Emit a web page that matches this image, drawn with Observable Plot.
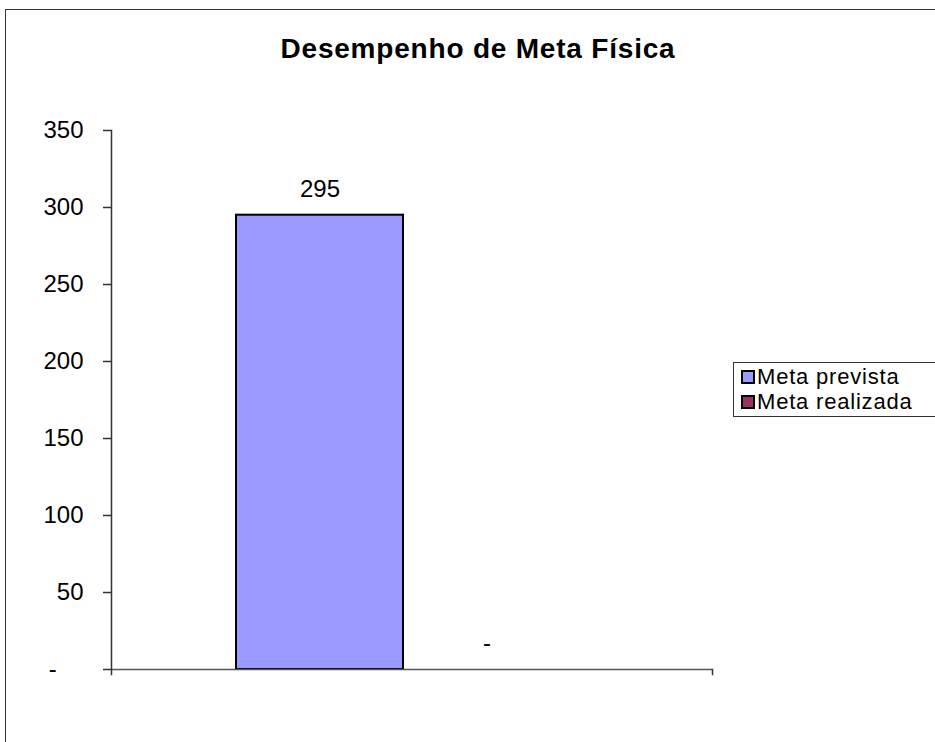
<!DOCTYPE html>
<html>
<head>
<meta charset="utf-8">
<script src="https://cdn.jsdelivr.net/npm/d3@7"></script>
<script src="https://cdn.jsdelivr.net/npm/@observablehq/plot@0.6"></script>
<style>
  html, body { margin: 0; padding: 0; background: #fff; overflow: hidden; }
  #wrap { position: relative; width: 935px; height: 742px; overflow: hidden; font-family: "Liberation Sans", Arial, sans-serif; }
  #frame { position: absolute; left: 5px; top: 9px; width: 1000px; height: 1000px; border: 1.5px solid #333; box-sizing: border-box; }
  #title { position: absolute; top: 33px; left: 0; width: 956px; text-align: center; font-weight: bold; font-size: 28px; letter-spacing: 0.8px; color: #000; }
  #chart { position: absolute; left: 0; top: 0; }
  #legend { position: absolute; left: 733px; top: 362px; width: 260px; border: 1px solid #333; padding: 1px 0 2px 7px; font-size: 22px; line-height: 25px; letter-spacing: 0.8px; background: #fff; }
  .row { display: flex; align-items: center; height: 25px; white-space: nowrap; }
  .sw { display: inline-block; width: 10px; height: 10px; border: 2px solid #000; margin-right: 2px; }
</style>
</head>
<body>
<div id="wrap">
  <div id="frame"></div>
  <div id="title"></div>
  <div id="chart"></div>
  <div id="legend"></div>
</div>
<script>
const titleText = "Desempenho de Meta Física";
const series = ["Meta prevista", "Meta realizada"];
const values = [295, 0];
const colors = ["#9999FF", "#993366"];
const yTicks = [0, 50, 100, 150, 200, 250, 300, 350];

const data = series.map((s, i) => ({series: s, value: values[i]}));
const fmt = v => v === 0 ? "-" : String(v);

document.getElementById("title").textContent = titleText;

const chart = Plot.plot({
  width: 935,
  height: 742,
  marginLeft: 111,
  marginRight: 223,
  marginTop: 130,
  marginBottom: 73,
  style: {fontFamily: "'Liberation Sans', Arial, sans-serif", fontSize: "24px", background: "transparent", color: "#000"},
  x: {domain: series, paddingInner: 0, paddingOuter: 0.79, align: 0.47, axis: null},
  y: {domain: [0, 350], axis: null},
  color: {domain: series, range: colors},
  marks: [
    Plot.axisY({ticks: yTicks, tickSize: 8, tickPadding: 20, stroke: "#333", strokeWidth: 1.5,
      tickFormat: d => d === 0 ? "-\u00a0\u00a0\u00a0\u00a0" : String(d), fontSize: 24, label: null}),
    Plot.barY(data.filter(d => d.value > 0), {x: "series", y: "value", fill: "series", stroke: "#000", strokeWidth: 2}),
    Plot.ruleY([0], {stroke: "#555", strokeWidth: 1.5}),
    Plot.frame({anchor: "left", stroke: "#333", strokeWidth: 1.5, insetBottom: -5}),
    Plot.frame({anchor: "right", stroke: "#333", strokeWidth: 1.5, insetTop: 539, insetBottom: -5}),
    Plot.text(data, {x: "series", y: "value", text: d => fmt(d.value), dy: -26, fontSize: 24, fill: "#000"})
  ]
});
document.getElementById("chart").appendChild(chart);

const legend = document.getElementById("legend");
series.forEach((s, i) => {
  const row = document.createElement("div");
  row.className = "row";
  const sw = document.createElement("span");
  sw.className = "sw";
  sw.style.background = colors[i];
  const t = document.createElement("span");
  t.textContent = s;
  row.appendChild(sw);
  row.appendChild(t);
  legend.appendChild(row);
});
</script>
</body>
</html>
